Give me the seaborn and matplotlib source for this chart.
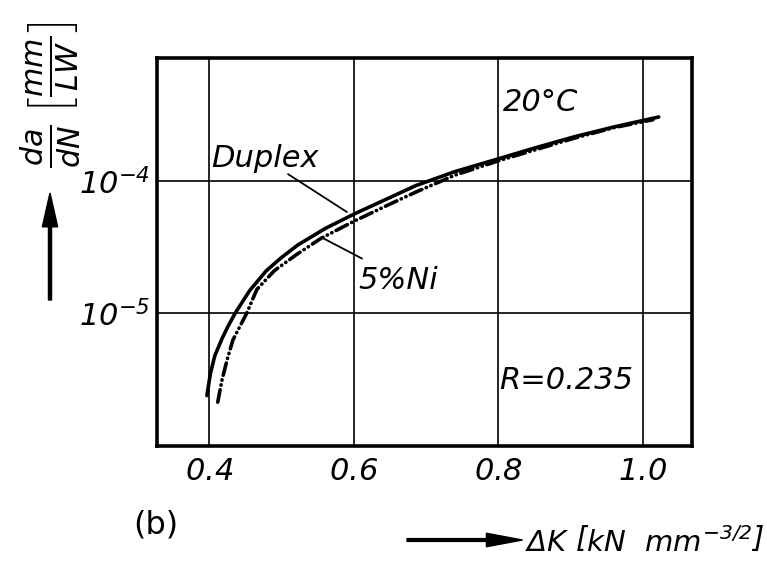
import pandas as pd
import seaborn as sns
import matplotlib.pyplot as plt
from matplotlib.patches import FancyArrow

# Duplex curve (solid)
duplex_dk = [0.397, 0.402, 0.408, 0.418, 0.426, 0.436, 0.456, 0.479, 0.50, 0.523, 0.561,
             0.602, 0.645, 0.686, 0.74, 0.80, 0.85, 0.905, 0.96, 1.022]
duplex_rate = [2.4e-6, 3.55e-6, 4.8e-6, 6.46e-6, 7.94e-6, 1.0e-5, 1.48e-5, 2.09e-5, 2.63e-5, 3.28e-5, 4.37e-5,
               5.65e-5, 7.24e-5, 9.18e-5, 1.17e-4, 1.46e-4, 1.76e-4, 2.14e-4, 2.54e-4, 3.02e-4]

# 5% Ni curve (dash-dot-dot)
ni_dk = [0.412, 0.418, 0.425, 0.433, 0.452, 0.466, 0.49, 0.52, 0.555, 0.599,
         0.645, 0.686, 0.74, 0.80, 0.905, 0.96, 1.014]
ni_rate = [2.14e-6, 3.16e-6, 4.47e-6, 6.3e-6, 1.0e-5, 1.51e-5, 2.09e-5, 2.75e-5, 3.68e-5, 4.9e-5,
           6.46e-5, 8.2e-5, 1.1e-4, 1.41e-4, 2.09e-4, 2.51e-4, 2.88e-4]

x_ticks = [0.4, 0.6, 0.8, 1.0]
x_tick_labels = ['$0.4$', '$0.6$', '$0.8$', '$1.0$']
y_ticks = [1e-5, 1e-4]
y_tick_labels = [r'$10^{-5}$', r'$10^{-4}$']

df = pd.concat([
    pd.DataFrame({'dK': duplex_dk, 'rate': duplex_rate, 'steel': 'Duplex'}),
    pd.DataFrame({'dK': ni_dk, 'rate': ni_rate, 'steel': '5%Ni'}),
])

sns.set_style('white', {'text.color': 'black', 'xtick.color': 'black',
                        'ytick.color': 'black', 'axes.edgecolor': 'black'})
plt.rcParams['font.family'] = ['DejaVu Sans']
# lettering in the original is all slanted, so make math italic too
plt.rcParams['mathtext.fontset'] = 'custom'
plt.rcParams['mathtext.rm'] = 'DejaVu Sans:italic'
plt.rcParams['mathtext.it'] = 'DejaVu Sans:italic'

fig = plt.figure(figsize=(7.67, 5.64), dpi=100)
ax = fig.add_axes([0.2047, 0.2092, 0.6975, 0.6879])

sns.lineplot(data=df, x='dK', y='rate', style='steel', color='black',
             dashes={'Duplex': '', '5%Ni': (3.5, 1.3, 0.1, 1.3, 0.1, 1.3)},
             lw=2.6, sort=False, estimator=None, legend=False, ax=ax)
for ln in ax.get_lines():
    ln.set_dash_capstyle('round')
    ln.set_solid_capstyle('round')
    ln.set_solid_joinstyle('round')

ax.set_yscale('log')
ax.set_xlim(0.328, 1.068)
ax.set_ylim(1.0e-6, 8.4e-4)
ax.set_xticks(x_ticks)
ax.set_xticklabels(x_tick_labels, fontsize=22)
ax.set_yticks(y_ticks)
ax.set_yticklabels(y_tick_labels, fontsize=22)
ax.minorticks_off()
ax.tick_params(length=3, width=2, color='black')
ax.tick_params(axis='y', pad=2)
ax.tick_params(axis='x', pad=5)
ax.grid(True, color='black', lw=1.2)
for sp in ax.spines.values():
    sp.set_linewidth(2.6)
ax.set_xlabel('')
ax.set_ylabel('')

# labels on the curves
ax.text(0.403, 1.46e-4, 'Duplex', fontsize=22, fontstyle='italic', va='center')
ax.annotate('', xy=(0.594, 5.65e-5), xytext=(0.506, 1.15e-4),
            arrowprops=dict(arrowstyle='-', lw=1.3, color='black'))
ax.text(0.607, 1.77e-5, '5%Ni', fontsize=22, fontstyle='italic', va='center')
ax.annotate('', xy=(0.553, 3.8e-5), xytext=(0.615, 2.53e-5),
            arrowprops=dict(arrowstyle='-', lw=1.3, color='black'))
ax.text(0.806, 3.9e-4, '20°C', fontsize=22, fontstyle='italic', va='center')
ax.text(0.802, 3.1e-6, 'R=0.235', fontsize=22, fontstyle='italic', va='center')

# axis titles with arrows
fig.text(50 / 767, 1 - 95 / 564, r'$\frac{da}{dN}\,\left[\frac{mm}{LW}\right]$',
         rotation=90, fontsize=31, ha='center', va='center')
fig.patches.append(FancyArrow(
    50 / 767, 1 - 300 / 564, 0, (300 - 193) / 564, width=0.004, head_width=0.02,
    head_length=0.06, length_includes_head=True, color='black',
    transform=fig.transFigure, figure=fig))

xlab = fig.text(764 / 767, 1 - 542 / 564, r'$\Delta K\ \left[kN\ \ mm^{-3/2}\right]$',
                fontsize=21, ha='right', va='center')
fig.canvas.draw()
bb = xlab.get_window_extent().transformed(fig.transFigure.inverted())
start = 407 / 767
fig.patches.append(FancyArrow(
    start, 1 - 540 / 564, bb.x0 - 0.003 - start, 0, width=0.005, head_width=0.024,
    head_length=0.047, length_includes_head=True, color='black',
    transform=fig.transFigure, figure=fig))
fig.text(133 / 767, 1 - 525 / 564, '(b)', fontsize=23, ha='left', va='center')

fig.savefig('out.png', dpi=100)
